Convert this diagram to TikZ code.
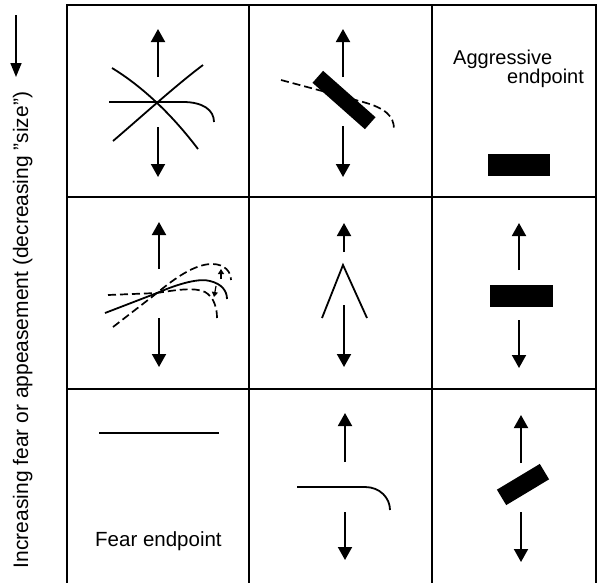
\documentclass[tikz,border=0pt]{standalone}
\usepackage{fontspec}
\setmainfont{Liberation Sans}
\usetikzlibrary{arrows.meta}

\tikzset{
  grid line/.style={line width=1.9pt, line cap=rect},
  stroke/.style={line width=1.8pt},
  dashstroke/.style={line width=1.7pt, dash pattern=on 8pt off 4pt},
  bigarrow/.style={line width=1.9pt, -{Triangle[width=14pt,length=13pt]}},
  tinyarrow/.style={line width=1.2pt, -{Triangle[width=6pt,length=5pt]}},
  sidearrow/.style={line width=1.6pt, -{Triangle[width=11pt,length=14pt]}},
  block/.style={fill=black, draw=none, inner sep=0pt},
  label text/.style={inner sep=0pt, font=\fontsize{20}{22}\selectfont}
}

\begin{document}
\begin{tikzpicture}[x=1pt, y=-1pt]
\useasboundingbox (0,0) rectangle (597,582);

% side caption with its arrow
\draw[sidearrow] (16,15) -- (16,77);
\node[label text, font=\fontsize{21}{23}\selectfont, rotate=90, anchor=base]
  (sidecap) at (28,330) {Increasing fear or appeasement (decreasing "size")};

% the 3x3 grid (open at the bottom)
\draw[grid line] (67,582) -- (67,5) -- (596,5) -- (596,582);
\draw[grid line] (249,5) -- (249,582);
\draw[grid line] (432,5) -- (432,582);
\draw[grid line] (67,197) -- (596,197);
\draw[grid line] (67,389) -- (596,389);

% ---------- row 1 ----------
% cell (1,1): crossing lines
\draw[bigarrow] (158,77) -- (158,29);
\draw[bigarrow] (158,127) -- (158,177);
\draw[stroke] (109,102) -- (183,102) .. controls (203,102) and (214,110) .. (214,122);
\draw[stroke] (112,68) .. controls (140,85) and (170,112) .. (198,149);
\draw[stroke] (113,141) .. controls (140,118) and (175,86) .. (203,65);

% cell (1,2): tilted block over dashed curve
\draw[bigarrow] (343,77) -- (343,29);
\draw[bigarrow] (343,126) -- (343,177);
\draw[dashstroke] (281,80) -- (363,102) .. controls (385,108) and (394,116) .. (394,129);
\node[block, minimum width=70pt, minimum height=16pt, rotate=-41.5] (blockA) at (344,100) {};

% cell (1,3): aggressive endpoint
\node[label text, anchor=base west] (aggr) at (453,64) {Aggressive};
\node[label text, anchor=base west] (aggrend) at (507,83) {endpoint};
\fill (488,154) rectangle (550,176);

% ---------- row 2 ----------
% cell (2,1): family of curves
\draw[bigarrow] (159,269) -- (159,222);
\draw[bigarrow] (159,318) -- (159,367);
\draw[stroke] (105,313) -- (157,293) .. controls (180,283) and (200,278) .. (210,281)
  .. controls (222,284) and (227,291) .. (227,299);
\draw[dashstroke] (108,295) -- (157,293) .. controls (175,290) and (195,287) .. (205,292)
  .. controls (214,297) and (217,308) .. (217,318);
\draw[dashstroke] (113,327) -- (157,293) .. controls (175,278) and (195,264) .. (212,264)
  .. controls (225,264) and (231,272) .. (231,280);
\draw[tinyarrow] (221,279) -- (221,269);
\draw[tinyarrow] (216,286) -- (214,297);

% cell (2,2): inverted V
\draw[bigarrow] (344,252) -- (344,223);
\draw[bigarrow] (344,305) -- (344,367);
\draw[stroke] (322,318) -- (343,265) -- (367,318);

% cell (2,3): flat block
\draw[bigarrow] (519,270) -- (519,223);
\draw[bigarrow] (519,320) -- (519,368);
\fill (490,285) rectangle (553,307);

% ---------- row 3 ----------
% cell (3,1): fear endpoint
\draw[stroke] (99,433) -- (219,433);
\node[label text, font=\fontsize{20.5}{22}\selectfont, anchor=base west] (fear) at (95,546) {Fear endpoint};

% cell (3,2): bent line
\draw[bigarrow] (345,462) -- (345,413);
\draw[bigarrow] (345,512) -- (345,560);
\draw[stroke] (297,487) -- (365,487) .. controls (380,487) and (390,498) .. (390,510);

% cell (3,3): tilted small block
\draw[bigarrow] (521,463) -- (521,415);
\draw[bigarrow] (521,512) -- (521,562);
\node[block, minimum width=50pt, minimum height=18pt, rotate=31] (blockB) at (523,484.5) {};

\end{tikzpicture}
\end{document}
